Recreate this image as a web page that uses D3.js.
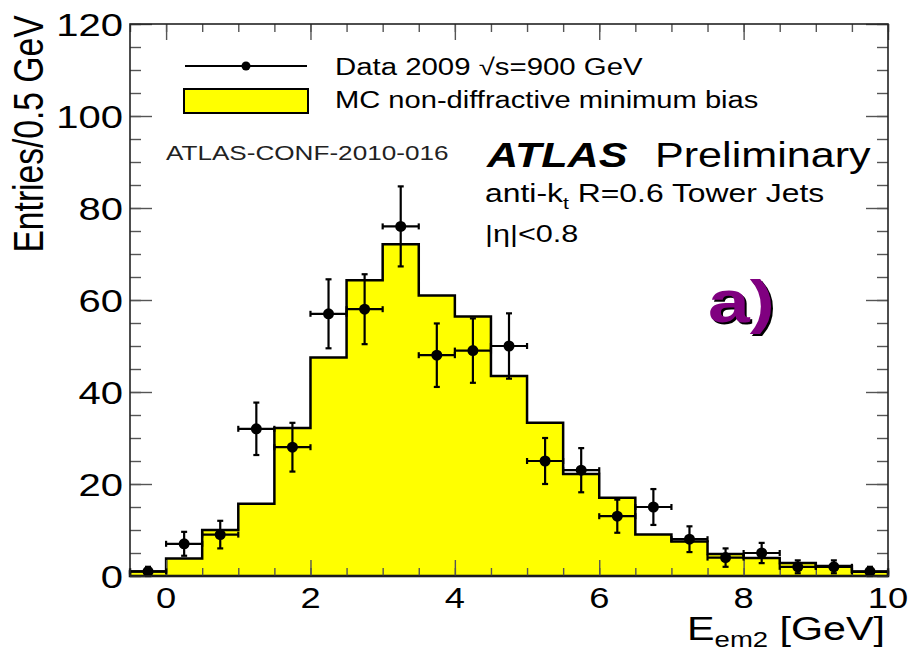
<!DOCTYPE html>
<head>
  <meta charset="utf-8">
  <script src="https://d3js.org/d3.v7.min.js"></script>
  <style>
    body { margin:0; background:#fff; }
    text { font-family: "Liberation Sans", Arial, Helvetica, sans-serif; }
  </style>
</head>
<body>
<script>
// bins of 0.5 GeV, lower edges
var binLow = [-0.5, 0, 0.5, 1, 1.5, 2, 2.5, 3, 3.5, 4, 4.5, 5, 5.5, 6, 6.5, 7, 7.5, 8, 8.5, 9, 9.5];
var mcEntries = [1, 3.8, 10, 15.7, 32.2, 47.5, 64.3, 72.1, 61, 56.4, 43.5, 33.3, 22.2, 17, 9, 7.5, 4.8, 3.9, 2.8, 2.2, 0.9];
var dataEntries = [1, 7, 9, 32, 28, 57, 58, 76, 48, 49, 50, 25, 23, 13, 15, 8, 4, 5, 2, 2, 1];
var dataErr = [1, 2.6, 3, 5.7, 5.3, 7.5, 7.6, 8.7, 6.9, 7, 7.1, 5, 4.8, 3.6, 3.9, 2.8, 2, 2.2, 1.4, 1.4, 1];
var binWidth = 0.5;

var xMajor = [0, 2, 4, 6, 8, 10];
var yMajor = [0, 20, 40, 60, 80, 100, 120];

var width = 910, height = 647;
var SX = 1.25; // picture is stretched sideways
var pLeft = 130, pRight = 888, pTop = 24, pBottom = 576;

var svg = d3.select("body").append("svg")
    .attr("width", width)
    .attr("height", height);

var x = d3.scaleLinear().domain([-0.5, 10]).range([pLeft, pRight]);
var y = d3.scaleLinear().domain([0, 120]).range([pBottom, pTop]);

function txt(px, py, str, size, anchor) {
  var g = svg.append("g").attr("transform", "translate(" + px + "," + py + ") scale(" + SX + ",1)");
  return g.append("text")
      .attr("text-anchor", anchor || "start")
      .attr("font-size", size)
      .text(str);
}

// MC histogram
var step = "M" + x(-0.5) + "," + y(0);
binLow.forEach(function(b, i) {
  step += "V" + y(mcEntries[i]) + "H" + x(b + binWidth);
});
step += "V" + y(0) + "Z";
svg.append("path")
    .attr("d", step)
    .attr("fill", "#ffff00")
    .attr("stroke", "#000")
    .attr("stroke-width", 2.5)
    .attr("stroke-linejoin", "miter");

// ticks
function axisStyle(g) {
  g.select(".domain").remove();
  g.selectAll("line").attr("stroke", "#555").attr("stroke-width", 1.4);
}
var xMinor = d3.range(-0.5, 10.01, 0.5);
var yMinor = d3.range(0, 120.1, 5);

svg.append("g").attr("transform", "translate(0," + pBottom + ")")
    .call(d3.axisTop(x).tickValues(xMinor).tickSize(8).tickFormat("")).call(axisStyle);
svg.append("g").attr("transform", "translate(0," + pBottom + ")")
    .call(d3.axisTop(x).tickValues(xMajor).tickSize(16).tickFormat("")).call(axisStyle);
svg.append("g").attr("transform", "translate(0," + pTop + ")")
    .call(d3.axisBottom(x).tickValues(xMinor).tickSize(8).tickFormat("")).call(axisStyle);
svg.append("g").attr("transform", "translate(0," + pTop + ")")
    .call(d3.axisBottom(x).tickValues(xMajor).tickSize(16).tickFormat("")).call(axisStyle);
svg.append("g").attr("transform", "translate(" + pLeft + ",0)")
    .call(d3.axisRight(y).tickValues(yMinor).tickSize(11).tickFormat("")).call(axisStyle);
svg.append("g").attr("transform", "translate(" + pLeft + ",0)")
    .call(d3.axisRight(y).tickValues(yMajor).tickSize(22).tickFormat("")).call(axisStyle);
svg.append("g").attr("transform", "translate(" + pRight + ",0)")
    .call(d3.axisLeft(y).tickValues(yMinor).tickSize(11).tickFormat("")).call(axisStyle);
svg.append("g").attr("transform", "translate(" + pRight + ",0)")
    .call(d3.axisLeft(y).tickValues(yMajor).tickSize(22).tickFormat("")).call(axisStyle);

// data points with error bars
var cap = 3;
var pts = svg.append("g").attr("stroke", "#000").attr("stroke-width", 2.2);
binLow.forEach(function(b, i) {
  var cx = x(b + binWidth / 2), cy = y(dataEntries[i]);
  var x0 = x(b), x1 = x(b + binWidth);
  var y0 = y(dataEntries[i] - dataErr[i]), y1 = y(dataEntries[i] + dataErr[i]);
  pts.append("line").attr("x1", x0).attr("x2", x1).attr("y1", cy).attr("y2", cy);
  pts.append("line").attr("x1", cx).attr("x2", cx).attr("y1", y0).attr("y2", y1);
  pts.append("line").attr("x1", x0).attr("x2", x0).attr("y1", cy - cap).attr("y2", cy + cap);
  pts.append("line").attr("x1", x1).attr("x2", x1).attr("y1", cy - cap).attr("y2", cy + cap);
  pts.append("line").attr("x1", cx - cap).attr("x2", cx + cap).attr("y1", y0).attr("y2", y0);
  pts.append("line").attr("x1", cx - cap).attr("x2", cx + cap).attr("y1", y1).attr("y2", y1);
  pts.append("circle").attr("cx", cx).attr("cy", cy).attr("r", 5.5).attr("fill", "#000").attr("stroke", "none");
});

// frame
svg.append("rect")
    .attr("x", pLeft).attr("y", pTop)
    .attr("width", pRight - pLeft).attr("height", pBottom - pTop)
    .attr("fill", "none").attr("stroke", "#222").attr("stroke-width", 1.6);

// tick labels
yMajor.forEach(function(v) { txt(123, y(v) + 11.5, v, 32, "end"); });
xMajor.forEach(function(v) { txt(x(v), 608, v, 29, "middle"); });

// axis titles
svg.append("g").attr("transform", "translate(43,134) scale(" + SX + ",1) rotate(-90)")
  .append("text").attr("text-anchor", "middle").attr("font-size", 33.6).text("Entries/0.5 GeV");

var xt = txt(885, 640, "E", 33, "end");
xt.append("tspan").attr("font-size", 22).attr("dy", 7).text("em2");
xt.append("tspan").attr("dy", -7).text(" [GeV]");

// legend
svg.append("line").attr("x1", 185).attr("x2", 307).attr("y1", 66).attr("y2", 66)
    .attr("stroke", "#000").attr("stroke-width", 2);
svg.append("circle").attr("cx", 246).attr("cy", 66).attr("r", 4.5).attr("fill", "#000");
svg.append("rect").attr("x", 184).attr("y", 89).attr("width", 124).attr("height", 24)
    .attr("fill", "#ffff00").attr("stroke", "#000").attr("stroke-width", 2);
txt(335, 75, "Data 2009 \u221As=900 GeV", 23.5);
txt(335, 108, "MC non-diffractive minimum bias", 23.3);

// labels
txt(166, 160, "ATLAS-CONF-2010-016", 20.9).attr("fill", "#222");
txt(487, 167, "ATLAS", 34.5).attr("font-weight", "bold").attr("font-style", "italic");
txt(655, 167, "Preliminary", 34.5);
var ak = txt(485, 202, "anti-k", 25.5);
ak.append("tspan").attr("font-size", 17).attr("dy", 7).text("t");
ak.append("tspan").attr("dy", -7).text(" R=0.6 Tower Jets");
txt(485, 242, "|\u03B7|<0.8", 24.5);

txt(710, 324, "a)", 60).attr("font-weight", "bold").attr("fill", "#000");
txt(708, 322, "a)", 60).attr("font-weight", "bold").attr("fill", "#800080");
</script>
</body>
